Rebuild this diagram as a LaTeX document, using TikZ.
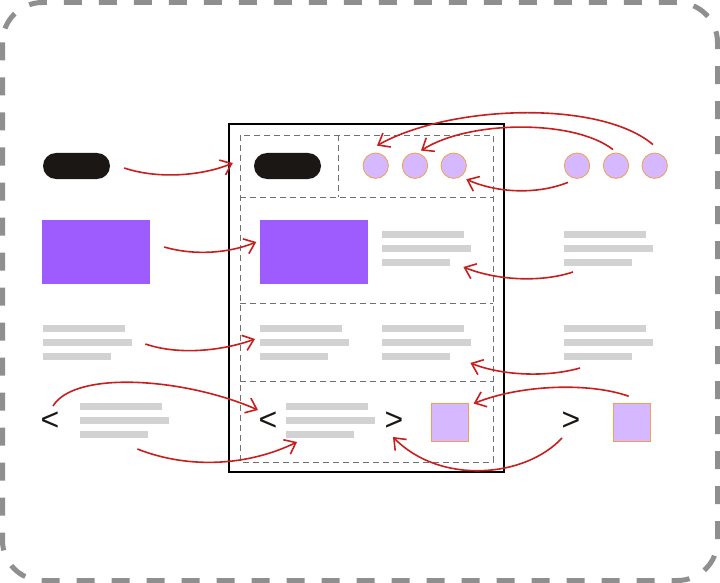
\documentclass[tikz,border=0pt]{standalone}
\usepackage{fontspec}
\setmainfont{Liberation Sans}
\usetikzlibrary{arrows.meta,calc}
\definecolor{bordergray}{HTML}{8F8F8F}
\definecolor{framedash}{HTML}{707070}
\definecolor{pillblack}{HTML}{1B1715}
\definecolor{vpurple}{HTML}{9E5CFF}
\definecolor{lav}{HTML}{D5B8FF}
\definecolor{dotorange}{HTML}{F0A050}
\definecolor{bargray}{HTML}{D2D2D2}
\definecolor{arrred}{HTML}{C81E1E}
\begin{document}
\begin{tikzpicture}[x=1pt,y=-1pt,
  outer/.style={draw=bordergray,line width=5pt,dash pattern=on 18pt off 17pt,rounded corners=40pt},
  secbox/.style={draw=framedash,line width=0.8pt,dash pattern=on 6pt off 4pt},
  pill/.style={fill=pillblack,rounded corners=13pt,minimum width=67pt,minimum height=26pt,inner sep=0pt},
  purpbox/.style={fill=vpurple,minimum width=108pt,minimum height=64pt,inner sep=0pt},
  dot/.style={circle,fill=lav,draw=dotorange,line width=0.8pt,minimum size=25.4pt,inner sep=0pt},
  sqbox/.style={fill=lav,draw=dotorange,line width=0.8pt,minimum width=37.5pt,minimum height=37.5pt,inner sep=0pt},
  bar/.style={fill=bargray,minimum height=7pt,inner sep=0pt,anchor=west},
  chev/.style={inner sep=0pt,text=pillblack,font=\fontsize{32}{32}\selectfont},
  arr/.style={draw=arrred,line width=1.6pt,-{Straight Barb[length=10pt,width=16pt]}}
]
\useasboundingbox[fill=white] (0,0) rectangle (720,583);
% outer dashed border
\draw[outer] (2.5,2.5) rectangle (717.5,580.5);
% main frame
\draw[black,line width=1.5pt] (229,124) rectangle (504,472);
% section boxes
\draw[secbox] (240,135) rectangle (493,462);
\draw[secbox] (338,135) -- (338,197);
\draw[secbox] (240,197) -- (493,197);
\draw[secbox] (240,303) -- (493,303);
\draw[secbox] (240,381) -- (493,381);
% pills
\node[pill] (pillL) at (76.5,166) {};
\node[pill] (pillI) at (287.5,166) {};
% purple boxes
\node[purpbox] (purpL) at (96,252) {};
\node[purpbox] (purpI) at (313.5,252) {};
% dots
\node[dot] (i1) at (375.7,165.7) {};
\node[dot] (i2) at (415,165.7) {};
\node[dot] (i3) at (453.7,165.7) {};
\node[dot] (r1) at (577,165.7) {};
\node[dot] (r2) at (616,165.7) {};
\node[dot] (r3) at (654.7,165.7) {};
% text bars
\foreach \gx/\gy/\nm in {382/234/stwoi,564/234/stwoo,43/328/sthrL,260/328/sthriL,382/328/sthriR,564/328/sthrR,80/406/sfouo,286/406/sfoui}{
  \node[bar,minimum width=82pt] (\nm a) at (\gx,\gy) {};
  \node[bar,minimum width=89pt] (\nm b) at (\gx,\gy+14) {};
  \node[bar,minimum width=68pt] (\nm c) at (\gx,\gy+28) {};
}
% chevrons
\node[chev] (chevL) at (50,421) {<};
\node[chev] (chevI) at (268,421) {<};
\node[chev] (chevRi) at (394,421) {>};
\node[chev] (chevRo) at (571,421) {>};
% squares
\node[sqbox] (sqI) at (449.9,422.4) {};
\node[sqbox] (sqR) at (631.7,422.4) {};
% arrows
\draw[arr] ($(pillL.east)+(14,2)$) .. controls +(36,12) and +(-28,12) .. ($(pillI.west)+(-21,-3)$);
\draw[arr] ($(purpL.east)+(14,-5)$) .. controls +(31,9) and +(-27,11) .. ($(purpI.west)+(-3,-10)$);
\draw[arr] ($(r3.north)+(-1.7,-8)$) .. controls +(-53,-45) and +(73,-41) .. ($(i1.north)+(1.3,-7)$);
\draw[arr] ($(r2.north)+(-3,-3)$) .. controls +(-38,-30) and +(49,-31) .. ($(i2.north)+(6,-2)$);
\draw[arr] ($(r1.south)+(-9,3.6)$) .. controls +(-33,13) and +(29,13) .. ($(i3.south east)+(3.3,4.3)$);
\draw[arr] ($(stwooc.west)+(9,10)$) .. controls +(-33,11) and +(32,13) .. ($(stwoic.east)+(13,5)$);
\draw[arr] ($(sthrLb.east)+(13,2)$) .. controls +(35,12) and +(-30,11) .. ($(sthriLb.west)+(-5,-3)$);
\draw[arr] ($(sthrRc.west)+(16,12)$) .. controls +(-35,10) and +(30,12) .. ($(sthriRc.east)+(20,7)$);
\draw[arr] ($(chevL.center)+(3,-15)$) .. controls +(22,-36) and +(-73,-32) .. ($(chevI.center)+(-10,-11)$);
\draw[arr] ($(sfouoc.east)+(-11,15)$) .. controls +(53,21) and +(-47,23) .. ($(sfouic.west)+(11,8)$);
\draw[arr] ($(sqR.north)+(-3,-7)$) .. controls +(-39,-14) and +(47,-19) .. ($(sqI.north east)+(4.6,0.3)$);
\draw[arr] ($(chevRo.center)+(-9,17)$) .. controls +(-37,40) and +(47,48) .. ($(chevRi.center)+(-1,16)$);
\end{tikzpicture}
\end{document}
